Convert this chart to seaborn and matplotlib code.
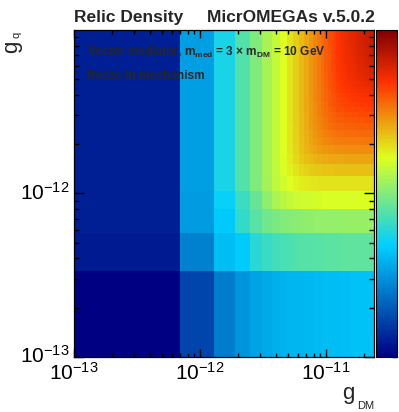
import numpy as np
import matplotlib
matplotlib.use("Agg")
import matplotlib.pyplot as plt
from matplotlib.colors import LinearSegmentedColormap
from matplotlib.ticker import LogLocator, NullFormatter, FixedLocator, LogFormatterSciNotation
from matplotlib.transforms import ScaledTranslation
import seaborn as sns

# ---------------- data (log10 of relic density) -------------
# coupling grid: linear bins
gdm_first_edge, gdm_bin_width, n_gdm = 1e-13, 6e-13, 40
gq_first_edge, gq_bin_width, n_gq = 1e-13, 2.35e-13, 42
gdm_major_ticks = [1e-13, 1e-12, 1e-11]
gq_major_ticks = [1e-13, 1e-12]

# log10(Omega h^2) along g_DM where g_q is large (top rows)
omega_vs_gdm = [-2.98, -2.24, -1.86, -1.61, -1.41, -1.25, -1.12, -1.01, -0.91, -0.82,
                -0.74, -0.67, -0.60, -0.54, -0.49, -0.43, -0.38, -0.33, -0.29, -0.25,
                -0.21, -0.18, -0.16, -0.14, -0.12, -0.10, -0.08, -0.07, -0.05, -0.03,
                -0.01, 0.00, 0.01, 0.03, 0.04, 0.06, 0.07, 0.08, 0.09, 0.11]
# log10(Omega h^2) along g_q (rows 4..41) where g_DM is large (right columns)
omega_vs_gq = [-0.90, -0.77, -0.66, -0.56, -0.48, -0.42, -0.37, -0.32, -0.28, -0.24,
               -0.20, -0.17, -0.14, -0.11, -0.08, -0.05, -0.02, 0.00, 0.03, 0.05,
               0.07, 0.09, 0.11, 0.13, 0.15, 0.17, 0.19, 0.20, 0.22, 0.24,
               0.25, 0.27, 0.28, 0.30, 0.31, 0.32, 0.34, 0.35]
# lowest four g_q rows, read cell by cell
row0 = [-3.20, -2.76, -2.44, -2.30, -2.21, -2.17, -2.14, -2.12, -2.11, -2.10,
        -2.10, -2.09, -2.09, -2.08, -2.08, -2.07, -2.07, -2.07, -2.06, -2.06,
        -2.06, -2.06, -2.05, -2.05, -2.05, -2.05, -2.04, -2.04, -2.04, -2.04,
        -2.04, -2.03, -2.03, -2.03, -2.03, -2.03, -2.03, -2.03, -2.03, -2.03]
row1 = [-3.00, -2.41, -2.07, -1.98, -1.79, -1.72, -1.68, -1.65, -1.63, -1.61,
        -1.60, -1.59, -1.59, -1.58, -1.58, -1.58, -1.57, -1.57, -1.57, -1.57,
        -1.57, -1.56, -1.56, -1.56, -1.56, -1.56, -1.56, -1.56, -1.56, -1.56,
        -1.56, -1.56, -1.56, -1.56, -1.56, -1.56, -1.56, -1.56, -1.56, -1.56]
row2 = [-2.98, -2.26, -2.00, -1.75, -1.58, -1.49, -1.45, -1.40, -1.39, -1.37,
        -1.36, -1.35, -1.35, -1.34, -1.34, -1.34, -1.33, -1.33, -1.33, -1.33,
        -1.33, -1.33, -1.33, -1.32, -1.32, -1.32, -1.32, -1.32, -1.32, -1.32,
        -1.32, -1.32, -1.32, -1.32, -1.32, -1.32, -1.32, -1.32, -1.32, -1.32]
row3 = [-2.98, -2.26, -1.92, -1.71, -1.53, -1.35, -1.24, -1.17, -1.13, -1.10,
        -1.09, -1.08, -1.07, -1.06, -1.06, -1.05, -1.05, -1.05, -1.05, -1.04,
        -1.04, -1.04, -1.04, -1.04, -1.04, -1.04, -1.03, -1.03, -1.03, -1.03,
        -1.03, -1.03, -1.03, -1.03, -1.03, -1.03, -1.03, -1.03, -1.03, -1.03]
z_min_log, z_max_log = -3.16, 0.355
# -----------------------------------------------------------------------------------

gdm_edges = gdm_first_edge + gdm_bin_width * np.arange(n_gdm + 1)
gq_edges = gq_first_edge + gq_bin_width * np.arange(n_gq + 1)
gdm_c = 0.5 * (gdm_edges[:-1] + gdm_edges[1:])
gq_c = 0.5 * (gq_edges[:-1] + gq_edges[1:])


def soft_min(a, b, s=0.35):
    return -s * np.log10(10 ** (-a / s) + 10 ** (-b / s))


grid = [row0, row1, row2, row3]
for b in omega_vs_gq:
    grid.append([soft_min(a, b) for a in omega_vs_gdm])

xs, ys, ws = [], [], []
for j in range(n_gq):
    for i in range(n_gdm):
        xs.append(gdm_c[i])
        ys.append(gq_c[j])
        ws.append(grid[j][i])

sns.set_style("ticks")
plt.rcParams['font.family'] = ['Liberation Sans', 'DejaVu Sans']
plt.rcParams['mathtext.fontset'] = 'custom'
plt.rcParams['mathtext.rm'] = 'Liberation Sans'
plt.rcParams['mathtext.it'] = 'Liberation Sans:italic'
plt.rcParams['mathtext.bf'] = 'Liberation Sans:bold'
plt.rcParams['mathtext.default'] = 'regular'
plt.rcParams['axes.edgecolor'] = 'black'
plt.rcParams['xtick.color'] = 'black'
plt.rcParams['ytick.color'] = 'black'

W, H = 399, 412
fig = plt.figure(figsize=(W / 100, H / 100), dpi=100)
fx = lambda p: p / W
fy = lambda p: 1 - p / H
ax = fig.add_axes([fx(74), fy(357), fx(374) - fx(74), fy(30) - fy(357)])
cax = fig.add_axes([fx(375.7), fy(357), fx(397) - fx(375.7), fy(30) - fy(357)])

cmap = LinearSegmentedColormap.from_list(
    "rootpal",
    [(0.0, (0.0, 0.0, 0.51)), (0.34, (0.0, 0.81, 1.0)), (0.61, (0.87, 1.0, 0.12)),
     (0.84, (1.0, 0.20, 0.0)), (1.0, (0.51, 0.0, 0.0))], N=255)

sns.histplot(x=xs, y=ys, weights=ws,
             bins=[list(np.log10(gdm_edges)), list(np.log10(gq_edges))],
             log_scale=True, cmap=cmap, vmin=z_min_log, vmax=z_max_log,
             thresh=None, cbar=True, cbar_ax=cax, ax=ax)

ax.set_xlim(gdm_edges[0], gdm_edges[-1])
ax.set_ylim(gq_edges[0], gq_edges[-1])
ax.set_xlabel("")
ax.set_ylabel("")
for sp in ax.spines.values():
    sp.set_visible(True)
    sp.set_linewidth(0.9)
    sp.set_color("black")
    sp.set_zorder(5)
ax.xaxis.set_major_locator(FixedLocator(gdm_major_ticks))
ax.yaxis.set_major_locator(FixedLocator(gq_major_ticks))
ax.xaxis.set_major_formatter(LogFormatterSciNotation())
ax.yaxis.set_major_formatter(LogFormatterSciNotation())
ax.xaxis.set_minor_locator(LogLocator(base=10, subs=np.arange(2, 10)))
ax.yaxis.set_minor_locator(LogLocator(base=10, subs=np.arange(2, 10)))
ax.xaxis.set_minor_formatter(NullFormatter())
ax.yaxis.set_minor_formatter(NullFormatter())
ax.set_axisbelow(False)
ax.tick_params(axis='both', which='both', direction='in', top=True, right=True,
               width=1.0, labelsize=15, color='black')
ax.tick_params(axis='x', which='major', length=6, pad=3.5)
ax.tick_params(axis='x', which='minor', length=3)
ax.tick_params(axis='y', which='major', length=7, pad=3)
ax.tick_params(axis='y', which='minor', length=3.5)
# lift the y tick labels a little (as in the reference)
lift = ScaledTranslation(0, 2 / 72, fig.dpi_scale_trans)
for lab in ax.get_yticklabels():
    lab.set_transform(lab.get_transform() + lift)

# colour bar ticks (log decades of the colour scale), no labels visible
majors = [-3, -2, -1, 0]
minors = [n + np.log10(k) for n in range(-4, 1) for k in range(2, 10)]
minors = [m for m in minors if z_min_log <= m <= z_max_log]
cax.yaxis.set_major_locator(FixedLocator(majors))
cax.yaxis.set_minor_locator(FixedLocator(minors))
cax.tick_params(axis='y', which='both', direction='in', right=True, left=False,
                labelright=False, labelleft=False, width=1.0, color='black')
cax.tick_params(axis='y', which='major', length=7)
cax.tick_params(axis='y', which='minor', length=3.5)
for sp in cax.spines.values():
    sp.set_linewidth(0.8)
try:
    cax.collections[0].colorbar.outline.set_linewidth(0.8)
except Exception:
    pass

# titles and labels
fig.text(fx(74), fy(22), "Relic Density", fontsize=12.5, fontweight='bold',
         ha='left', va='baseline')
fig.text(fx(375), fy(22), "MicrOMEGAs v.5.0.2", fontsize=12.5, fontweight='bold',
         ha='right', va='baseline')
fig.text(fx(87), fy(56), r"Vector mediator, m$_{\mathbf{med}}$ = 3 × m$_{\mathbf{DM}}$ = 10 GeV",
         fontsize=8.6, fontweight='bold', ha='left', va='baseline')
fig.text(fx(87), fy(79), "freeze-in mechanism", fontsize=8.6, fontweight='bold',
         ha='left', va='baseline')

fig.text(fx(342), fy(399), "g", fontsize=16, ha='left', va='baseline')
fig.text(fx(357), fy(409), "DM", fontsize=8, ha='left', va='baseline')
fig.text(fx(17), fy(53), "g", fontsize=16, rotation=90, rotation_mode='anchor',
         ha='left', va='baseline')
fig.text(fx(20), fy(38), "q", fontsize=8, rotation=90, rotation_mode='anchor',
         ha='left', va='baseline')

fig.savefig("out.png", dpi=100)
